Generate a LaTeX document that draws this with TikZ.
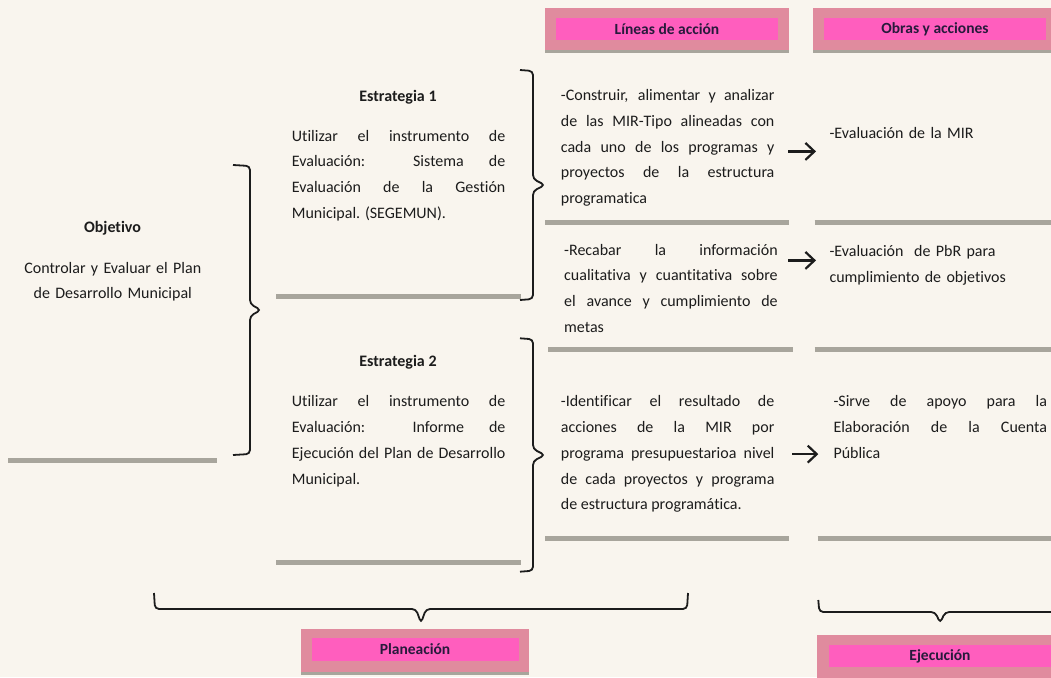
\documentclass[tikz,border=0pt]{standalone}
\usepackage{fontspec}
\setmainfont{Carlito}[Ligatures={NoCommon}]
\definecolor{PageCream}{RGB}{249,245,238}
\definecolor{RulerGrey}{RGB}{168,165,156}
\definecolor{TagRose}{RGB}{224,139,158}
\definecolor{TagPink}{RGB}{255,94,190}
\definecolor{TagInk}{RGB}{40,26,60}
\definecolor{BodyInk}{RGB}{28,28,28}
\usetikzlibrary{
    arrows.meta,
    positioning,
    calc,
}
\newcommand{\bodyfont}{\fontsize{16}{25.8}\selectfont}
\newcommand{\tagfont}{\fontsize{15.5}{18}\selectfont\bfseries}

\begin{document}
\begin{tikzpicture}[
    x=1pt, y=-1pt,
    bodytext/.style={inner sep=0pt, text width=#1, align=justify, anchor=base west, font=\bodyfont, text=BodyInk},
    bodytext/.default=213.5pt,
    headtext/.style={inner sep=0pt, anchor=base, font=\bodyfont\bfseries, text=BodyInk},
    tagbox/.style={fill=TagRose, minimum width=#1, minimum height=45pt, inner sep=0pt,
        path picture={\fill[RulerGrey] (path picture bounding box.south west) rectangle ([yshift=3pt]path picture bounding box.south east);}},
    tagtext/.style={fill=TagPink, minimum width=#1, minimum height=22pt, inner sep=0pt, font=\tagfont, text=TagInk},
    ruler/.style={draw=RulerGrey, line width=5pt},
    bracket/.style={draw=BodyInk, line width=1.8pt, rounded corners=4pt},
    rbrace/.style n args={2}{bracket, to path={
        -- ++(#1,1)
        -- ($(\tikztostart)!.5!(\tikztotarget)+(#1,-6)$)
        -- ($(\tikztostart)!.5!(\tikztotarget)+(#2,0)$)
        -- ($(\tikztostart)!.5!(\tikztotarget)+(#1,6)$)
        -- ($(\tikztotarget)+(#1,-1)$)
        -- (\tikztotarget)}},
    dbrace/.style n args={2}{bracket, to path={
        -- ++(1,#1)
        -- ($(\tikztostart)!.5!(\tikztotarget)+(-5,#1)$)
        -- ($(\tikztostart)!.5!(\tikztotarget)+(0,#2)$)
        -- ($(\tikztostart)!.5!(\tikztotarget)+(5,#1)$)
        -- ($(\tikztotarget)+(-1,#1)$)
        -- (\tikztotarget)}},
    arrowto/.style={-{Straight Barb[length=9pt,width=17pt]}, draw=BodyInk, line width=2.2pt}
]
    \fill[PageCream] (0,0) rectangle (1051,677);
    \useasboundingbox (0,0) rectangle (1051,677);

    % column headers
    \node[tagbox=244pt] (linbox) at (667,30.5) {};
    \node[tagtext=222pt] (lin) at ([yshift=1.5pt]linbox.center) {Líneas de acción};
    \node[tagbox=244pt] (obrbox) at (935,30.5) {};
    \node[tagtext=222pt] (obr) at ([yshift=1.5pt]obrbox.center) {Obras y acciones};

    % objetivo
    \node[headtext] (objt) at (112.5,232) {Objetivo};
    \node[bodytext=200pt, align=center, anchor=base] (objb) at (112.8,273) {Controlar y Evaluar el Plan\\de Desarrollo Municipal};

    % estrategias
    \node[headtext] (e1t) at (398,101.5) {Estrategia 1};
    \node[bodytext] (e1b) at (291.7,141) {Utilizar el instrumento de\linebreak Evaluación: Sistema de\linebreak Evaluación de la Gestión\linebreak Municipal. (SEGEMUN).};
    \node[headtext] (e2t) at (398,366.7) {Estrategia 2};
    \node[bodytext] (e2b) at (291.7,406.7) {Utilizar el instrumento de\linebreak Evaluación: Informe de\linebreak Ejecución del Plan de Desarrollo\linebreak Municipal.};

    % lineas de accion
    \node[bodytext] (l1) at (560.7,100.5) {-Construir, alimentar y analizar\linebreak de las MIR-Tipo alineadas con\linebreak cada uno de los programas y\linebreak proyectos de la estructura\linebreak programatica};
    \node[bodytext] (l2) at (564,255) {-Recabar la información\linebreak cualitativa y cuantitativa sobre\linebreak el avance y cumplimiento de\linebreak metas};
    \node[bodytext] (l3) at (560.7,406.7) {-Identificar el resultado de\linebreak acciones de la MIR por\linebreak programa presupuestarioa nivel\linebreak de cada proyectos y programa\linebreak de estructura programática.};

    % obras y acciones
    \node[bodytext, align=left] (o1) at (829.3,138.3) {-Evaluación de la MIR};
    \node[bodytext, align=left] (o2) at (829.3,256.7) {-Evaluación\ \ de PbR para\\cumplimiento de objetivos};
    \node[bodytext] (o3) at (833.3,406.7) {-Sirve de apoyo para la\linebreak Elaboración de la Cuenta\linebreak Pública};

    \draw[arrowto] ([xshift=13.7pt,yshift=-3.5pt]l1.east) -- ([xshift=-13.3pt,yshift=-3.5pt]l1.east -| o1.west);
    \draw[arrowto] ([xshift=-41.3pt,yshift=5pt]o2.west) -- ([xshift=-13.3pt,yshift=5pt]o2.west);
    \draw[arrowto] ([xshift=17.4pt]l3.east) -- ([xshift=-15pt]l3.east -| o3.west);

    % grey rulers
    \draw[ruler] (8,460) -- (217,460);
    \draw[ruler] (276,296) -- (521,296);
    \draw[ruler] (276,562) -- (521,562);
    \draw[ruler] (545,222.3) -- (789,222.3);
    \draw[ruler] (548,349.3) -- (793,349.3);
    \draw[ruler] (545,538.3) -- (789,538.3);
    \draw[ruler] (814.7,222.3) -- (1051,222.3);
    \draw[ruler] (814.7,349.3) -- (1051,349.3);
    \draw[ruler] (817.7,538.3) -- (1051,538.3);

    % braces
    \draw[rbrace={17}{28}] (233,165) to (233,455);
    \draw[rbrace={13}{25}] (520,70) to (520,300);
    \draw[rbrace={13}{25}] (520,338.3) to (520,571.7);
    \draw[dbrace={16}{30}] (154,593) to (688,593);
    \draw[dbrace={12}{23}] (818.3,600) to (1062,600);

    % bottom labels
    \node[tagbox=228pt, minimum height=46pt] (plabox) at (415,652) {};
    \node[tagtext=207pt, minimum height=23pt] (pla) at ([yshift=2.5pt]plabox.center) {Planeación};
    \node[tagbox=246pt, minimum height=46pt] (ejebox) at (940,658) {};
    \node[tagtext=222pt] (eje) at ([yshift=2pt]ejebox.center) {Ejecución};
\end{tikzpicture}
\end{document}
